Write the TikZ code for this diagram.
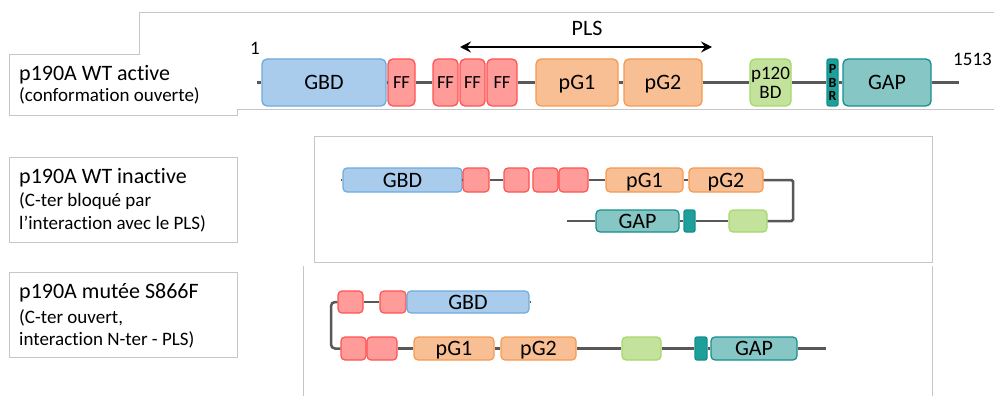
\documentclass[tikz,border=0pt]{standalone}
\usepackage{fontspec}
\setmainfont{Carlito}[RawFeature={-liga;-dlig}]
\usetikzlibrary{arrows.meta}
\definecolor{gbdfill}{HTML}{A9CBEC}
\definecolor{gbdline}{HTML}{6FAADC}
\definecolor{fffill}{HTML}{FF9C9A}
\definecolor{ffline}{HTML}{FF5252}
\definecolor{pgfill}{HTML}{F8BF94}
\definecolor{pgline}{HTML}{F59A4E}
\definecolor{bdfill}{HTML}{C3E39C}
\definecolor{bdline}{HTML}{A6D86A}
\definecolor{gapfill}{HTML}{86C6C4}
\definecolor{gapline}{HTML}{13908D}
\definecolor{pbrfill}{HTML}{1F9F99}
\definecolor{bbgray}{HTML}{585858}
\definecolor{framegray}{HTML}{C6C6C6}
\tikzset{
  dom/.style={draw, rounded corners=5pt, line width=1.3pt, inner sep=0pt,
    text height=14pt, text depth=0pt, font=\fontsize{22}{24}\selectfont},
  gbdbox/.style={dom, draw=gbdline, fill=gbdfill},
  ffbox/.style={dom, draw=ffline, fill=fffill, text height=12pt, font=\fontsize{18.5}{20}\selectfont},
  pgbox/.style={dom, draw=pgline, fill=pgfill},
  bdbox/.style={dom, draw=bdline, fill=bdfill, text height=, text depth=, align=center,
    font=\fontsize{19}{19}\selectfont},
  pbrbox/.style={dom, draw=gapline, fill=pbrfill, rounded corners=2pt, text height=, text depth=,
    align=center, font=\bfseries\fontsize{14}{13.5}\selectfont},
  gapbox/.style={dom, draw=gapline, fill=gapfill},
  slim/.style={rounded corners=4pt, line width=1.2pt},
  backbone/.style={draw=bbgray, line width=2.5pt},
  frame/.style={draw=framegray, line width=0.9pt},
  titletext/.style={anchor=base west, inner sep=0pt, font=\fontsize{22}{24}\selectfont},
  subtext/.style={anchor=base west, inner sep=0pt, font=\fontsize{19}{22}\selectfont},
  numtext/.style={inner sep=0pt, font=\fontsize{19}{22}\selectfont},
  plsarrow/.style={line width=2.5pt, {Stealth[length=11pt,width=11pt,inset=4pt]}-{Stealth[length=11pt,width=11pt,inset=4pt]}}
}
\begin{document}
\begin{tikzpicture}[x=1pt,y=-1pt]
\useasboundingbox (0,0) rectangle (994,396);
% frames
\draw[frame] (994,12) -- (139,12) -- (139,54) -- (9,54) -- (9,115) -- (237,115) -- (237,109) -- (994,109);
\draw[frame] (9,157) rectangle (237,242);
\draw[frame] (314,136) rectangle (932,262);
\draw[frame] (9,272) rectangle (237,357);
\draw[frame] (303,396) -- (303,266);
\draw[frame] (932,266) -- (932,396);
% labels
\node[titletext] (l1a) at (19,81) {p190A WT active};
\node[subtext] (l1b) at (19,102) {(conformation ouverte)};
\node[titletext] (l2a) at (19,183) {p190A WT inactive};
\node[subtext] (l2b) at (19,206) {(C-ter bloqué par};
\node[subtext] (l2c) at (19,229) {l’interaction avec le PLS)};
\node[titletext] (l3a) at (19,298) {p190A mutée S866F};
\node[subtext] (l3b) at (19,323) {(C-ter ouvert,};
\node[subtext] (l3c) at (19,345) {interaction N-ter - PLS)};
% row 1: active
\coordinate (s1) at (257,82.5);
\coordinate (e1) at (959,82.5);
\node[gbdbox, minimum width=124pt, minimum height=47pt] (gbd1) at (324,82.5) {GBD};
\node[ffbox, minimum width=27pt, minimum height=47pt] (ff1a) at (401.5,82.5) {FF};
\node[ffbox, minimum width=25pt, minimum height=47pt] (ff1b) at (445.5,82.5) {FF};
\node[ffbox, minimum width=25pt, minimum height=47pt] (ff1c) at (472.5,82.5) {FF};
\node[ffbox, minimum width=30pt, minimum height=47pt] (ff1d) at (502,82.5) {FF};
\node[pgbox, minimum width=82pt, minimum height=47pt] (pg1a) at (577,82.5) {pG1};
\node[pgbox, minimum width=78pt, minimum height=47pt] (pg1b) at (663,82.5) {pG2};
\node[bdbox, minimum width=41pt, minimum height=47pt] (bd1) at (770.5,82.5) {p120\\BD};
\node[pbrbox, minimum width=11pt, minimum height=47pt] (pbr1) at (832.5,82.5) {P\\B\\R};
\node[gapbox, minimum width=88pt, minimum height=47pt] (gap1) at (887,82.5) {GAP};
\foreach \a/\b in {s1/gbd1, gbd1/ff1a, ff1a/ff1b, ff1d/pg1a, pg1a/pg1b, pg1b/bd1, bd1/pbr1, pbr1/gap1, gap1/e1}
  \draw[backbone] (\a) -- (\b);
\node[numtext] (n1) at (255,48) {1};
\node[numtext] (n1513) at (972.5,59) {1513};
\coordinate (plsL) at (460,47);
\coordinate (plsR) at (712,47);
\draw[plsarrow] (plsL) -- (plsR);
\node[inner sep=0pt, font=\fontsize{22}{24}\selectfont] (pls) at (587,28) {PLS};
% row 2: inactive
\coordinate (s2) at (341,180);
\coordinate (t2a) at (793,180);
\coordinate (t2b) at (793,221);
\coordinate (e2) at (567,221);
\node[gbdbox, slim, minimum width=119pt, minimum height=24pt] (gbd2) at (402.5,180) {GBD};
\node[ffbox, slim, minimum width=26pt, minimum height=24pt] (ff2a) at (476,180) {};
\node[ffbox, slim, minimum width=25pt, minimum height=24pt] (ff2b) at (516.5,180) {};
\node[ffbox, slim, minimum width=25pt, minimum height=24pt] (ff2c) at (545.5,180) {};
\node[ffbox, slim, minimum width=29pt, minimum height=24pt] (ff2d) at (573.5,180) {};
\node[pgbox, slim, minimum width=77pt, minimum height=24pt] (pg2a) at (644.5,180) {pG1};
\node[pgbox, slim, minimum width=74pt, minimum height=24pt] (pg2b) at (726,180) {pG2};
\node[bdbox, slim, minimum width=38pt, minimum height=22pt] (bd2) at (748,221) {};
\node[pbrbox, minimum width=11pt, minimum height=22pt] (pbr2) at (689.5,221) {};
\node[gapbox, slim, minimum width=83pt, minimum height=22pt] (gap2) at (637.5,221) {GAP};
\foreach \a/\b in {s2/gbd2, gbd2/ff2a, ff2a/ff2b, ff2d/pg2a, pg2a/pg2b, bd2/pbr2, pbr2/gap2, gap2/e2}
  \draw[backbone] (\a) -- (\b);
\draw[backbone, rounded corners=1.5pt] (pg2b) -- (t2a) -- (t2b) -- (bd2);
% row 3: S866F
\coordinate (c3a) at (331,302);
\coordinate (c3b) at (331,348.5);
\coordinate (e3a) at (531,302);
\coordinate (e3b) at (826,348.5);
\node[ffbox, slim, minimum width=25pt, minimum height=22pt] (ff3a) at (350.5,302) {};
\node[ffbox, slim, minimum width=26pt, minimum height=22pt] (ff3b) at (393,302) {};
\node[gbdbox, slim, minimum width=122pt, minimum height=22pt] (gbd3) at (468,302) {GBD};
\node[ffbox, slim, minimum width=25pt, minimum height=23pt] (ff3c) at (353.5,348.5) {};
\node[ffbox, slim, minimum width=30pt, minimum height=23pt] (ff3d) at (382,348.5) {};
\node[pgbox, slim, minimum width=80pt, minimum height=23pt] (pg3a) at (454,348.5) {pG1};
\node[pgbox, slim, minimum width=75pt, minimum height=23pt] (pg3b) at (538.5,348.5) {pG2};
\node[bdbox, slim, minimum width=39pt, minimum height=23pt] (bd3) at (641.5,348.5) {};
\node[pbrbox, minimum width=12pt, minimum height=23pt] (pbr3) at (701,348.5) {};
\node[gapbox, slim, minimum width=86pt, minimum height=23pt] (gap3) at (754,348.5) {GAP};
\foreach \a/\b in {ff3a/ff3b, gbd3/e3a, ff3d/pg3a, pg3a/pg3b, pg3b/bd3, bd3/pbr3, pbr3/gap3, gap3/e3b}
  \draw[backbone] (\a) -- (\b);
\draw[backbone, rounded corners=4pt] (ff3a) -- (c3a) -- (c3b) -- (ff3c);
\end{tikzpicture}
\end{document}
